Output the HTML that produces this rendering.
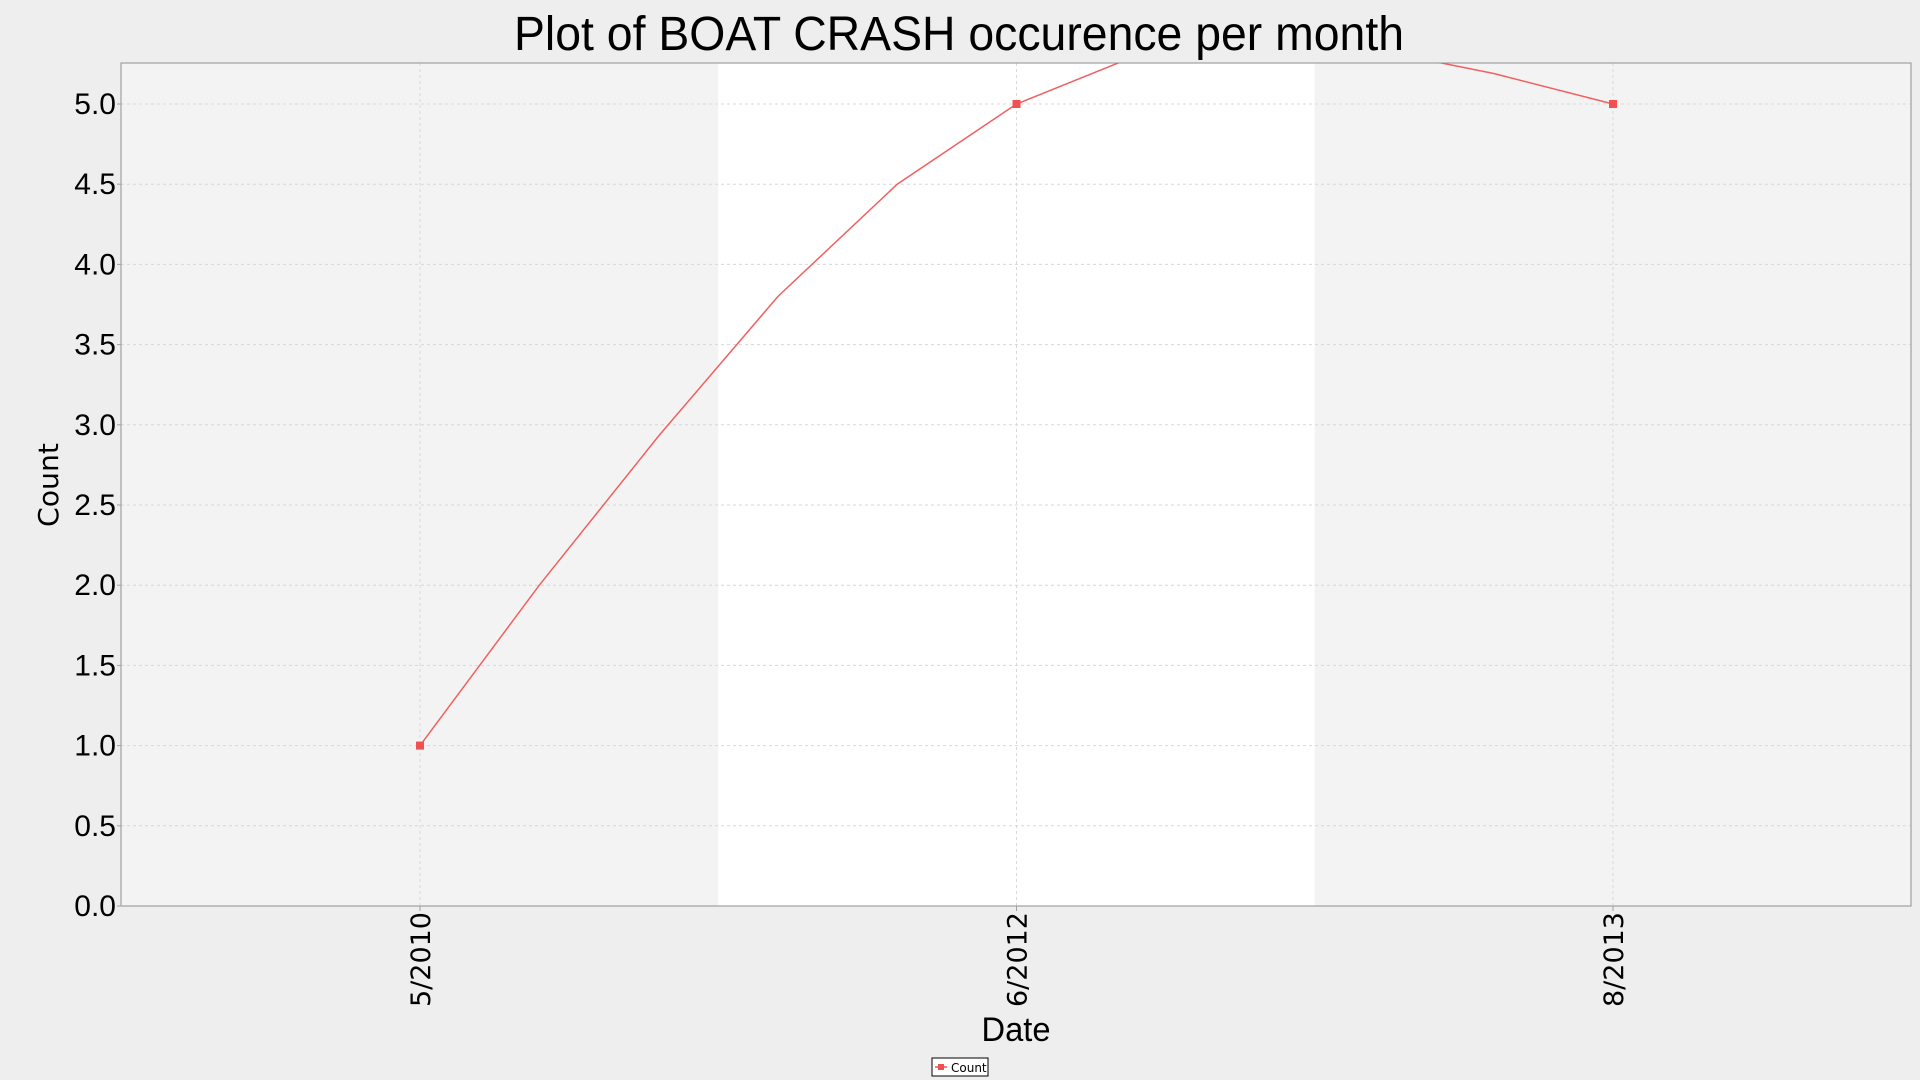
<!DOCTYPE html>
<html><head><meta charset="utf-8"><style>
html,body{margin:0;padding:0;background:#eeeeee;}
svg{display:block;}
text{font-family:"Liberation Sans Narrow","Liberation Sans",sans-serif;}
</style></head><body>
<svg id="chart" width="1920" height="1080" viewBox="0 0 1920 1080">
<rect x="0" y="0" width="1920" height="1080" fill="#eeeeee"/>
<g id="bands"></g>
<g id="grid"></g>
<rect x="121" y="63" width="1790" height="843" fill="none" stroke="#a0a0a0" stroke-width="1.2"/>
<g id="series"></g>
<g id="yticks"></g>
<g id="xticks"></g>
<text x="959" y="50" text-anchor="middle" font-size="48" textLength="890" lengthAdjust="spacingAndGlyphs" fill="#000">Plot of BOAT CRASH occurence per month</text>
<text transform="translate(58,485) rotate(-90)" text-anchor="middle" font-size="28" textLength="84" lengthAdjust="spacingAndGlyphs" style="font-family:'DejaVu Sans',sans-serif">Count</text>
<text x="1016" y="1041" text-anchor="middle" font-size="34" textLength="69" lengthAdjust="spacingAndGlyphs">Date</text>
<g>
<rect x="932" y="1058" width="56" height="18" fill="#fff" stroke="#000" stroke-width="1"/>
<line x1="935" y1="1067" x2="947" y2="1067" stroke="#f05050" stroke-width="1.5"/>
<rect x="938" y="1064" width="6" height="6" fill="#f05050"/>
<text x="951" y="1072" font-size="12" style="font-family:'DejaVu Sans',sans-serif">Count</text>
</g>
</svg>
<script>
const values = [1.0, 2.0, 2.93, 3.8, 4.5, 5.0, 5.3, 5.5, 5.34, 5.19, 5.0];
const tickIndex = [0, 5, 10];
const tickLabels = ["5/2010", "6/2012", "8/2013"];
const yTicks = [0, 0.5, 1, 1.5, 2, 2.5, 3, 3.5, 4, 4.5, 5];
const yTickLabels = ["0.0","0.5","1.0","1.5","2.0","2.5","3.0","3.5","4.0","4.5","5.0"];

const NS = "http://www.w3.org/2000/svg";
const L = 121, R = 1911, T = 63, B = 906;
const x0 = 420, dx = 119.3;
function xs(i){ return x0 + i*dx; }
function ys(v){ return B - v*160.4; }
function mk(tag, attrs, parent){ const e=document.createElementNS(NS,tag); for(const k in attrs) e.setAttribute(k,attrs[k]); parent.appendChild(e); return e; }

const bands=document.getElementById('bands');
const bnd=[L, xs(tickIndex[0]+2.5), xs(tickIndex[1]+2.5), R];
for(let b=0;b<3;b++){
  const r=mk('rect',{x:bnd[b],y:T,width:bnd[b+1]-bnd[b],height:B-T,fill:b%2?'#ffffff':'#f3f3f3'},bands);
  
  
}
const grid=document.getElementById('grid');
const yt=document.getElementById('yticks');
yTicks.forEach((v,k)=>{
  const y=ys(v);
  if(v>0){
    const g=mk('line',{x1:L,y1:y,x2:R,y2:y,stroke:'#d8d8d8','stroke-dasharray':'3,3','stroke-width':1},grid);
    
    
  }
  const t=mk('text',{x:116,y:y+10,'text-anchor':'end','font-size':30},yt);
  t.textContent=yTickLabels[k];
  
  
  const tk=mk('line',{x1:L-4,y1:y,x2:L,y2:y,stroke:'#a0a0a0'},yt);
  
  
});
const xt=document.getElementById('xticks');
tickIndex.forEach((i,k)=>{
  const x=xs(i);
  const g=mk('line',{x1:x,y1:T,x2:x,y2:B,stroke:'#d8d8d8','stroke-dasharray':'3,3','stroke-width':1},grid);
  
  
  const tk=mk('line',{x1:x,y1:B,x2:x,y2:B+5,stroke:'#a0a0a0'},xt);
  
  
  const t=mk('text',{transform:`translate(${x+10},${B+6}) rotate(-90)`,'text-anchor':'end','font-size':27,textLength:95,lengthAdjust:'spacingAndGlyphs',style:"font-family:'DejaVu Sans',sans-serif"},xt);
  t.textContent=tickLabels[k];
  
  
});
const ser=document.getElementById('series');
mk('clipPath',{id:'clip'},ser).appendChild(Object.assign(document.createElementNS(NS,'rect'),{}));
ser.lastChild.firstChild.setAttribute('x',L);ser.lastChild.firstChild.setAttribute('y',T);
ser.lastChild.firstChild.setAttribute('width',R-L);ser.lastChild.firstChild.setAttribute('height',B-T);
const pts=values.map((v,i)=>xs(i)+','+ys(v)).join(' ');
const pl=mk('polyline',{points:pts,fill:'none',stroke:'#f06060','stroke-width':1.5,'clip-path':'url(#clip)'},ser);


tickIndex.forEach(i=>{
  const y=ys(values[i]);
  if(y<T) return;
  const m=mk('rect',{x:xs(i)-4,y:y-4,width:8,height:8,fill:'#f05050'},ser);
  
  
});
</script>
</body></html>
